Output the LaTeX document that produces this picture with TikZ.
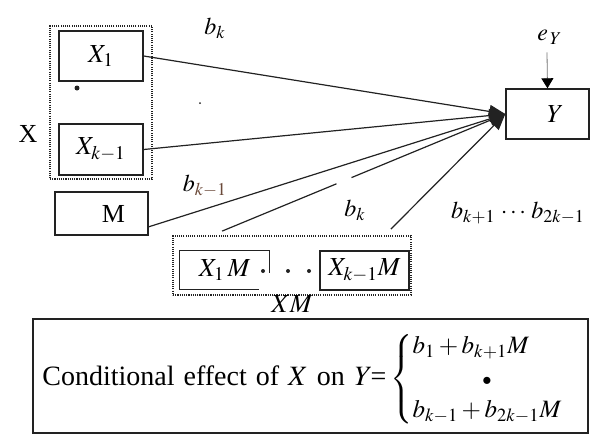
\documentclass[tikz,border=0pt]{standalone}
\usepackage{amsmath}
\usepackage{mathptmx}
\usepackage{fontspec}
\setmainfont{Liberation Serif}
\usetikzlibrary{arrows.meta,calc}
\definecolor{ink}{HTML}{222222}
\definecolor{rust}{HTML}{6B4A3A}

\begin{document}
\begin{tikzpicture}[x=0.5pt,y=-0.5pt,
  box/.style={draw=ink,line width=0.7pt,inner sep=0pt,font=\fontsize{13}{15}\selectfont},
  xbox/.style={box,minimum width=42pt,minimum height=25pt},
  grp/.style={draw=ink,line width=0.9pt,dash pattern=on 0.55pt off 0.55pt,inner sep=0pt},
  lab/.style={inner sep=0pt,font=\fontsize{12}{14}\selectfont},
  arr/.style={-{Triangle[length=8pt,width=6.5pt]},line width=0.6pt,color=ink},
  err/.style={-{Triangle[length=5pt,width=6pt,color=black]},line width=0.4pt,color=black!55}]
\useasboundingbox (0,0) rectangle (600,445);
% predictors X_1 ... X_{k-1}
\node[grp,minimum width=51pt,minimum height=76.5pt] (xg) at (101,102.5) {};
\node[xbox] (x1) at (101,56) {$X_1$};
\node[xbox,minimum height=25.5pt] (xk1) at (101,149.5) {$X_{k-1}$};
\node[lab,font=\fontsize{13}{15}\selectfont] (xlab) at (28,134) {X};
\fill[ink] (77,88) circle (2.5);
\fill[ink] (200,103) circle (1);
% moderator
\node[box,minimum width=46.5pt,minimum height=21.5pt] (m) at (101.5,213.5) {\hspace{12pt}M};
% products XM
\node[grp,minimum width=119pt,minimum height=29.5pt] (xm) at (292,265.5) {};
\node[box,draw=none,minimum width=44.5pt,minimum height=19pt] (x1m) at (224.5,270) {$X_1\,M$\hspace{14pt}};
\draw[ink,line width=0.7pt] ($(x1m.south east)+(-11,0)$) -- (x1m.south west) -- (x1m.north west) -- (x1m.north east) -- ($(x1m.east)+(0,3)$);
\node[box,minimum width=44.5pt,minimum height=19.5pt] (xk1m) at (364.5,270.5) {$X_{k-1}M$};
\foreach \dx in {263,288,309} \fill[ink] (\dx,271) circle (2);
\node[lab,font=\fontsize{13}{15}\selectfont] (xmlab) at (292,304) {$XM$};
% outcome
\node[box,minimum width=41.5pt,minimum height=25pt] (y) at (547.5,114) {\hspace{8pt}$Y$};
\node[lab] (ey) at (550,37) {$e_{\,Y}$};
% coefficients
\node[lab] (bk) at (215,28) {$b_k$};
\node[lab] (bk1) at (205,186) {$b_{\color{rust}k-1}$};
\node[lab] (bkm) at (355,210) {$b_k$};
\node[lab] (bkk) at (518,213) {$b_{k+1}\,\cdots\,b_{2k-1}$};
% paths
\draw[err] ($(ey.south)+(-3,8)$) -- (y.north);
\draw[arr] (x1.east) -- (y.west);
\draw[arr] (xk1.east) -- (y.west);
\draw[arr] ($(m.east)!0.6!(m.south east)$) -- (y.west);
\draw[ink,line width=0.6pt] ($(xm.north west)+(50,-4)$) -- ($($(xm.north west)+(50,-4)$)!0.404!(y.west)$);
\draw[arr] ($($(xm.north west)+(50,-4)$)!0.457!(y.west)$) -- (y.west);
\draw[arr] ($(xm.north east)+(-21,-6)$) -- (y.west);
% conditional effect
\node[box,minimum width=277.5pt,minimum height=57pt] (ce) at (310.5,376) {};
\node[lab,anchor=west,font=\fontsize{14}{16}\selectfont] (cetext) at (42,379) {Conditional\hspace{4.5pt}effect\hspace{4.5pt}of\hspace{4.5pt}$X$\hspace{4.5pt}on\hspace{5pt}$Y$\hspace{-1pt}=\hspace{2pt}{\fontsize{12.5}{14}\selectfont\renewcommand{\arraystretch}{1.15}$\left\{\begin{array}{@{}l@{}}b_1+b_{k+1}M\\ \multicolumn{1}{@{}c@{}}{\scriptstyle\bullet}\\ b_{k-1}+b_{2k-1}M\end{array}\right.$}};
\end{tikzpicture}
\end{document}
